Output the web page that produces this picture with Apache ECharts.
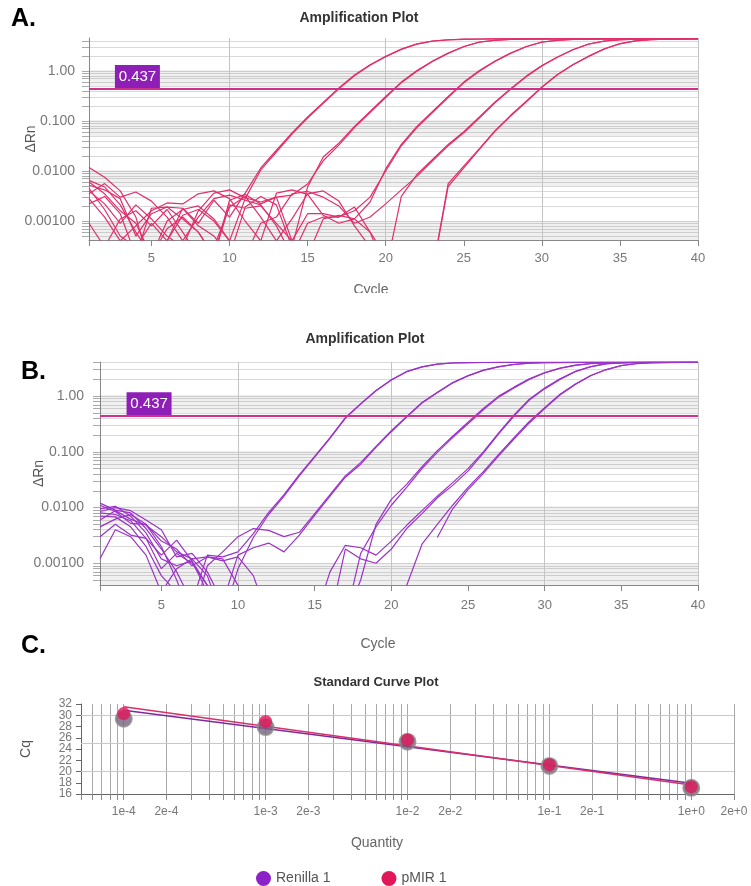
<!DOCTYPE html>
<html>
<head>
<meta charset="utf-8">
<script src="https://cdn.jsdelivr.net/npm/echarts@6/dist/echarts.min.js"></script>
<style>
  html, body { margin: 0; padding: 0; background: #fff; }
  #chart { width: 751px; height: 886px; }
</style>
</head>
<body>
<div id="chart"></div>
<script>
// cycles 1..40
const cycles = [1,2,3,4,5,6,7,8,9,10,11,12,13,14,15,16,17,18,19,20,21,22,23,24,25,26,27,28,29,30,31,32,33,34,35,36,37,38,39,40];
const cycleTicks = [1,5,10,15,20,25,30,35,40];
const cycleLabels = [5,10,15,20,25,30,35,40];
const rnLabels = [0.001, 0.01, 0.1, 1];
const threshold = 0.437;

// panel A (pMIR) delta Rn per cycle, null = not drawn
const a1a = [0.0060,0.0035,0.0016,0.0009,0.0002,0.0010,0.0017,0.0020,0.0011,0.0004,0.0028,0.0105,0.024,0.055,0.115,0.225,0.44,0.80,1.30,1.92,2.70,3.45,3.95,4.20,4.30,4.35,4.37,4.38,4.39,4.40,4.40,4.41,4.41,4.42,4.42,4.43,4.43,4.44,4.44,4.45];
const a1b = [0.0118,0.0075,0.0040,0.0012,0.0001,0.0004,0.0018,0.0009,0.0026,0.0012,0.0036,0.0115,0.026,0.058,0.12,0.235,0.46,0.83,1.33,1.96,2.74,3.50,3.98,4.22,4.32,4.36,4.38,4.39,4.40,4.40,4.41,4.41,4.42,4.42,4.43,4.43,4.44,4.44,4.45,4.45];
const a2a = [0.0052,0.0042,0.0028,0.0005,0.0014,0.0019,0.0018,0.0008,0.0005,0.0002,0.0019,0.0031,0.0021,0.0003,0.0048,0.019,0.036,0.078,0.155,0.31,0.60,1.02,1.58,2.29,3.09,3.80,4.12,4.28,4.35,4.38,4.39,4.40,4.40,4.41,4.42,4.42,4.43,4.44,4.44,4.45];
const a2b = [0.0040,0.0022,0.0009,0.0021,0.0011,0.0005,0.0003,0.0016,0.0036,0.0042,0.0029,0.0024,0.0030,0.0033,0.0055,0.016,0.033,0.074,0.148,0.295,0.58,0.99,1.55,2.25,3.05,3.77,4.10,4.27,4.34,4.37,4.38,4.39,4.40,4.40,4.41,4.42,4.42,4.43,4.44,4.45];
const a3a = [0.0028,0.0012,0.0004,0.0008,0.0016,0.0023,0.0022,0.0035,0.0040,0.0028,0.0010,0.0004,0.0036,0.0042,0.0034,0.0013,0.0009,0.0011,0.0024,0.011,0.034,0.078,0.155,0.31,0.60,1.02,1.58,2.29,3.09,3.80,4.12,4.28,4.35,4.38,4.39,4.40,4.41,4.42,4.43,4.44];
const a3b = [0.0065,0.0048,0.0021,0.0006,0.0002,0.0007,0.0012,0.0006,0.0002,0.0021,0.0018,0.0020,0.0009,0.0004,0.0014,0.0014,0.0012,0.0016,0.0030,0.010,0.032,0.074,0.148,0.295,0.58,0.99,1.55,2.25,3.05,3.77,4.10,4.27,4.34,4.37,4.38,4.39,4.40,4.41,4.42,4.43];
const a4a = [0.0022,0.0031,0.0014,0.0002,0.0018,0.0019,0.0011,0.0006,0.0002,0.0026,0.0034,0.0022,0.0030,0.0004,0.0002,0.0011,0.0013,0.0011,0.0006,0.0001,0.0031,0.0085,0.017,0.034,0.061,0.12,0.24,0.44,0.79,1.29,1.91,2.69,3.47,3.98,4.22,4.32,4.37,4.40,4.42,4.44];
const a4b = [0.0045,0.0017,0.0005,0.0003,0.0009,0.0004,0.0013,0.0017,0.0010,0.0004,0.0002,0.0009,0.0012,0.0035,0.0039,0.0030,0.0020,0.0009,0.0012,0.0022,0.0042,0.0078,0.016,0.032,0.058,0.115,0.23,0.43,0.77,1.26,1.88,2.66,3.44,3.96,4.21,4.31,4.36,4.39,4.41,4.43];
const a5a = [0.0009,0.0003,0.0011,0.0016,0.0008,0.0017,0.0006,0.0002,0.0003,0.0019,0.0031,0.0012,0.0004,0.0011,0.0035,0.0040,0.0025,0.0008,0.0003,0.0001,null,null,0.0001,0.0049,0.0115,0.027,0.062,0.125,0.24,0.47,0.84,1.33,1.96,2.75,3.50,4.00,4.23,4.33,4.38,4.42];
const a5b = [0.0035,0.0056,0.0030,0.0038,0.0025,0.0012,0.0004,0.0012,0.0028,0.0033,0.0026,0.0021,0.0008,0.0002,0.0009,0.0012,0.0012,0.0019,0.0006,0.0002,null,null,0.0001,0.0056,0.0125,0.028,0.064,0.13,0.25,0.48,0.85,1.35,1.98,2.77,3.52,4.00,4.24,4.34,4.39,4.43];

// panel B (Renilla)
const b1a = [0.0095,0.0105,0.0070,0.0035,0.0012,0.0009,0.0011,0.0003,0.0001,0.0008,0.0029,0.0075,0.016,0.037,0.080,0.175,0.40,0.72,1.25,1.95,2.75,3.35,3.75,3.93,4.00,4.02,4.03,4.03,4.04,4.04,4.04,4.05,4.05,4.05,4.05,4.06,4.06,4.06,4.06,4.06];
const b1b = [0.0120,0.0090,0.0080,0.0042,0.0018,0.0007,0.0002,0.0014,0.0013,0.0016,0.0034,0.0082,0.017,0.039,0.083,0.18,0.41,0.73,1.26,1.96,2.76,3.36,3.76,3.94,4.00,4.02,4.03,4.03,4.04,4.04,4.04,4.05,4.05,4.05,4.05,4.06,4.06,4.06,4.06,4.06];
const b2a = [0.0080,0.0075,0.0058,0.0028,0.0008,0.0015,0.0010,0.0004,0.0002,0.0014,0.0019,0.0023,0.0016,0.0032,0.0072,0.016,0.035,0.060,0.120,0.23,0.42,0.75,1.15,1.72,2.30,2.90,3.35,3.70,3.90,3.98,4.01,4.02,4.03,4.04,4.04,4.05,4.05,4.05,4.06,4.06];
const b2b = [0.0110,0.0085,0.0052,0.0050,0.0020,0.0005,0.0001,0.0009,0.0016,0.0030,0.0042,0.0039,0.0030,0.0036,0.0078,0.017,0.037,0.064,0.125,0.24,0.43,0.77,1.17,1.75,2.33,2.93,3.38,3.72,3.91,3.99,4.02,4.03,4.03,4.04,4.04,4.05,4.05,4.05,4.06,4.06];
const b3a = [0.0070,0.0068,0.0045,0.0020,0.0006,0.0003,0.0001,null,null,null,null,null,null,null,null,null,0.0001,0.0005,0.0050,0.014,0.026,0.054,0.105,0.19,0.34,0.60,1.00,1.45,2.05,2.65,3.20,3.60,3.85,3.97,4.01,4.03,4.04,4.05,4.05,4.06];
const b3b = [0.0060,0.0088,0.0062,0.0048,0.0030,0.0016,0.0012,0.0006,0.0001,null,null,null,null,null,null,null,0.0001,0.0015,0.0045,0.011,0.023,0.050,0.098,0.18,0.32,0.57,0.96,1.40,2.00,2.60,3.15,3.56,3.83,3.96,4.01,4.03,4.04,4.04,4.05,4.06];
const b4a = [0.0045,0.0062,0.0075,0.0050,0.0025,0.0018,0.0009,0.0013,0.0012,0.0004,0.0001,null,null,null,null,0.0001,0.0018,0.0012,0.0010,0.0018,0.0042,0.0078,0.015,0.025,0.045,0.095,0.21,0.44,0.85,1.35,2.00,2.75,3.35,3.80,3.97,4.02,4.04,4.05,4.05,4.06];
const b4b = [0.0030,0.0050,0.0032,0.0028,0.0014,0.0026,0.0011,0.0004,0.0001,null,null,null,null,null,0.0001,0.0007,0.0021,0.0019,0.0014,0.0025,0.0048,0.0088,0.016,0.028,0.050,0.10,0.22,0.46,0.88,1.40,2.05,2.80,3.40,3.82,3.98,4.02,4.04,4.05,4.05,4.06];
const b5a = [0.0085,0.0100,0.0088,0.0060,0.0040,0.0013,0.0015,0.0007,0.0002,null,null,null,null,null,null,null,null,null,null,0.0001,0.0004,0.0022,0.0050,0.011,0.023,0.044,0.090,0.18,0.35,0.62,1.08,1.65,2.35,3.00,3.55,3.85,3.98,4.02,4.04,4.05];
const b5b = [0.0012,0.0040,0.0030,0.0014,0.0003,0.0008,0.0012,0.0013,0.0011,0.0013,0.0006,0.0001,null,null,null,null,null,null,null,null,null,null,0.0029,0.0095,0.021,0.041,0.085,0.17,0.33,0.60,1.05,1.62,2.32,2.97,3.52,3.84,3.97,4.01,4.03,4.04];

// panel C standard curve
const quantities = [1e-4, 1e-3, 1e-2, 1e-1, 1];
const renillaCq = [29.4, 27.9, 25.3, 21.0, 17.1];
const pmirCq = [30.3, 28.9, 25.6, 21.2, 17.3];
const fitQty = [1e-4, 1];
const renillaFit = [30.9, 17.9];
const pmirFit = [31.5, 17.6];
const qtyLabels = [1e-4, 2e-4, 1e-3, 2e-3, 1e-2, 2e-2, 1e-1, 2e-1, 1, 2];
// Cq tick labels, split over two axes so the crowded labels all show
const cqLabelsA = [16, 20, 24, 28, 32];
const cqLabelsB = [18, 22, 26, 30];

// log grid lines (1..9 per decade)
function logSteps(lo, hi, kMin, kMax) {
  const out = [];
  for (let k = kMin; k <= kMax; k++) {
    for (let m = 1; m <= 9; m++) {
      const v = +(m * Math.pow(10, k)).toPrecision(2);
      if (v >= lo && v <= hi) out.push(v);
    }
  }
  return out;
}
const minorA = logSteps(0.000417, 4.57, -4, 0);
const minorB = logSteps(0.000407, 4.1, -4, 0);
const minorC = logSteps(5e-5, 2, -5, 0);

const pink = '#e0306a';
const purple = '#9b33c6';
const font = 'Liberation Sans, Arial, sans-serif';

function pairs(vals) {
  return cycles.map((c, i) => [c, vals[i] == null ? '-' : vals[i]]);
}

const bands = [[0.0003, 0.001], [0.005, 0.0105], [0.05, 0.105], [0.5, 1.05]].map(b => [{ yAxis: b[0] }, { yAxis: b[1] }]);

function curveSeries(list, color, idx, labelX) {
  return list.map((vals, i) => {
    const s = {
      type: 'line', xAxisIndex: idx, yAxisIndex: idx,
      data: pairs(vals), symbol: 'none', silent: true,
      lineStyle: { color: color, width: 1.2 },
      itemStyle: { color: color }
    };
    if (i === 0) {
      s.markArea = { silent: true, itemStyle: { color: 'rgba(0,0,0,0.06)' }, data: bands };
      s.markLine = {
        silent: true, symbol: 'none', z: 6,
        label: { show: false },
        data: [{ yAxis: threshold, lineStyle: { color: '#d0308a', width: 2, type: 'solid' } }]
      };
      s.markPoint = {
        silent: true,
        data: [{
          coord: [labelX, threshold], symbol: 'rect', symbolSize: [45, 24], symbolOffset: [0, -12],
          itemStyle: { color: '#8e1fb6' },
          label: { show: true, position: 'inside', formatter: '0.437', color: '#fff', fontSize: 15, fontFamily: font }
        }]
      };
    }
    if (i === 1) {
      s.markLine = {
        silent: true, symbol: 'none', z: 1,
        label: { show: false },
        lineStyle: { color: '#c4c4c4', width: 1, type: 'solid' },
        data: [{ xAxis: 10 }, { xAxis: 20 }, { xAxis: 30 }, { xAxis: 40 }]
      };
    }
    return s;
  });
}

function cycleAxis(idx, margin) {
  return {
    gridIndex: idx, type: 'value', min: 1, max: 40,
    axisLine: { show: true, lineStyle: { color: '#888' } },
    axisTick: { show: true, customValues: cycleTicks, length: 6, lineStyle: { color: '#888' } },
    axisLabel: { customValues: cycleLabels, color: '#777', fontSize: 13, margin: margin, fontFamily: font },
    splitLine: { show: false }
  };
}

function rnAxis(idx, min, max, minor, gap, margin) {
  return {
    gridIndex: idx, type: 'log', logBase: 10, min: min, max: max,
    name: 'ΔRn', nameLocation: 'middle', nameGap: gap, nameMoveOverlap: false,
    nameTextStyle: { color: '#555', fontSize: 14, fontFamily: font },
    axisLine: { show: true, lineStyle: { color: '#888' } },
    axisTick: { show: true, customValues: minor, length: 7, lineStyle: { color: '#aaa' } },
    axisLabel: {
      customValues: rnLabels, color: '#777', fontSize: 14, margin: margin, fontFamily: font,
      formatter: v => Number(v).toPrecision(3)
    },
    splitLine: { show: true, lineStyle: { color: '#dadada', width: 1 } }
  };
}

const chart = echarts.init(document.getElementById('chart'));
const option = {
  animation: false,
  backgroundColor: '#fff',
  textStyle: { fontFamily: font },
  title: [
    { text: 'A.', left: 11, top: 7, padding: 0, textStyle: { fontSize: 25, fontWeight: 'bold', color: '#000' } },
    { text: 'Amplification Plot', left: 359, top: 11, padding: 0, textAlign: 'center', textStyle: { fontSize: 14, fontWeight: 'bold', color: '#333' } },
    { text: 'Cycle', left: 371, top: 283, padding: 0, textAlign: 'center', textStyle: { fontSize: 14, fontWeight: 'normal', color: '#666' } },
    { text: 'B.', left: 21, top: 360, padding: 0, textStyle: { fontSize: 25, fontWeight: 'bold', color: '#000' } },
    { text: 'Amplification Plot', left: 365, top: 332, padding: 0, textAlign: 'center', textStyle: { fontSize: 14, fontWeight: 'bold', color: '#333' } },
    { text: 'Cycle', left: 378, top: 637, padding: 0, textAlign: 'center', textStyle: { fontSize: 14, fontWeight: 'normal', color: '#666' } },
    { text: 'C.', left: 21, top: 634, padding: 0, textStyle: { fontSize: 25, fontWeight: 'bold', color: '#000' } },
    { text: 'Standard Curve Plot', left: 376, top: 676, padding: 0, textAlign: 'center', textStyle: { fontSize: 13, fontWeight: 'bold', color: '#333' } },
    { text: 'Quantity', left: 377, top: 836, padding: 0, textAlign: 'center', textStyle: { fontSize: 14, fontWeight: 'normal', color: '#666' } }
  ],
  graphic: [
    // panel A's axis title is cut off by panel B in the figure
    { type: 'rect', left: 330, top: 293, z: 100, shape: { width: 90, height: 14 }, style: { fill: '#fff' } }
  ],
  legend: {
    top: 866, left: 251, itemGap: 51, icon: 'circle', itemWidth: 15, itemHeight: 15,
    textStyle: { color: '#555', fontSize: 14 },
    data: [
      { name: 'Renilla 1', itemStyle: { color: '#8a22c8' } },
      { name: 'pMIR 1', itemStyle: { color: '#e0185a' } }
    ]
  },
  grid: [
    { left: 89, right: 53, top: 38, bottom: 646 },
    { left: 100, right: 53, top: 362, bottom: 301 },
    { left: 81, right: 17, top: 704, bottom: 92 }
  ],
  xAxis: [
    cycleAxis(0, 12),
    cycleAxis(1, 14),
    {
      gridIndex: 2, type: 'log', logBase: 10, min: 5e-5, max: 2,
      axisLine: { show: true, lineStyle: { color: '#666' } },
      axisTick: { show: true, customValues: minorC, length: 6, lineStyle: { color: '#888' } },
      axisLabel: { customValues: qtyLabels, color: '#777', fontSize: 12, margin: 12, formatter: v => Number(v).toExponential(0) },
      splitLine: { show: true, lineStyle: { color: '#a8a8a8' } }
    }
  ],
  yAxis: [
    rnAxis(0, 0.000417, 4.57, minorA, 51, 14),
    rnAxis(1, 0.000407, 4.1, minorB, 54, 16),
    {
      gridIndex: 2, type: 'value', min: 16, max: 32, interval: 2,
      name: 'Cq', nameLocation: 'middle', nameGap: 48, nameMoveOverlap: false,
      nameTextStyle: { color: '#555', fontSize: 14 },
      axisLine: { show: true, lineStyle: { color: '#666' } },
      axisTick: { show: true, length: 5, lineStyle: { color: '#666' } },
      axisLabel: { customValues: cqLabelsA, color: '#777', fontSize: 12, margin: 9 },
      splitLine: { show: false }
    },
    {
      gridIndex: 2, type: 'value', min: 16, max: 32, position: 'left',
      axisLine: { show: false }, axisTick: { show: false }, splitLine: { show: false },
      axisLabel: { customValues: cqLabelsB, color: '#777', fontSize: 12, margin: 9 }
    }
  ],
  series: [
    ...curveSeries([a1a, a1b, a2a, a2b, a3a, a3b, a4a, a4b, a5a, a5b], pink, 0, 4.1),
    ...curveSeries([b1a, b1b, b2a, b2b, b3a, b3b, b4a, b4b, b5a, b5b], purple, 1, 4.2),
    {
      name: 'Renilla 1', type: 'line', xAxisIndex: 2, yAxisIndex: 2, symbol: 'none', silent: true,
      data: fitQty.map((q, i) => [q, renillaFit[i]]),
      lineStyle: { color: '#7b2a9e', width: 1.5 }, itemStyle: { color: '#8a22c8' },
      markLine: {
        silent: true, symbol: 'none', z: 1, label: { show: false },
        lineStyle: { color: '#c8c8c8', width: 1, type: 'solid' },
        data: [{ yAxis: 20 }, { yAxis: 25 }, { yAxis: 30 }]
      }
    },
    {
      name: 'pMIR 1', type: 'line', xAxisIndex: 2, yAxisIndex: 2, symbol: 'none', silent: true,
      data: fitQty.map((q, i) => [q, pmirFit[i]]),
      lineStyle: { color: '#d8306a', width: 1.5 }, itemStyle: { color: '#e0185a' }
    },
    {
      name: 'Renilla 1', type: 'scatter', xAxisIndex: 2, yAxisIndex: 2, symbolSize: 16, silent: true,
      data: quantities.map((q, i) => [q, renillaCq[i]]),
      itemStyle: { color: '#76627f', borderColor: '#8c8c8c', borderWidth: 2 }, z: 4
    },
    {
      name: 'pMIR 1', type: 'scatter', xAxisIndex: 2, yAxisIndex: 2, symbolSize: 13, silent: true,
      data: quantities.map((q, i) => [q, pmirCq[i]]),
      itemStyle: { color: '#e0185a' }, z: 5
    }
  ]
};
chart.setOption(option);
</script>
</body>
</html>
